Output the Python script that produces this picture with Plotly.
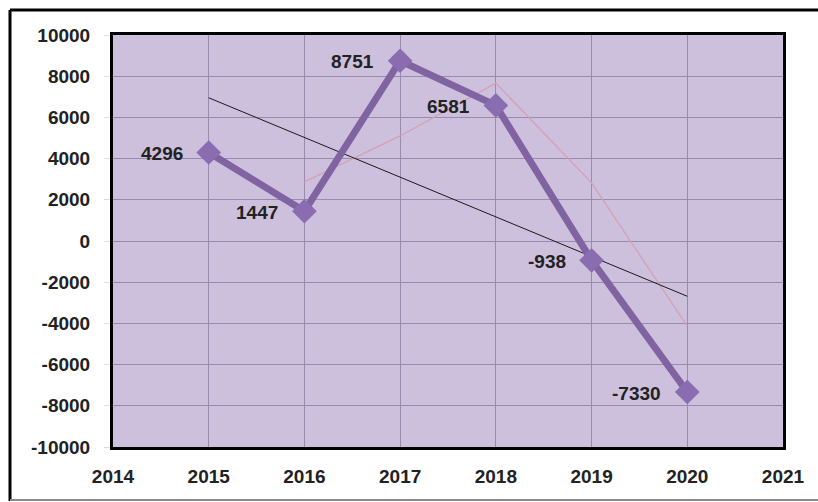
import numpy as np
import plotly.graph_objects as go

# Annual values
years = [2015, 2016, 2017, 2018, 2019, 2020]
values = [4296, 1447, 8751, 6581, -938, -7330]

x_ticks = [2014, 2015, 2016, 2017, 2018, 2019, 2020, 2021]
y_ticks = list(range(-10000, 10001, 2000))

# Linear trend (least squares) across the series
slope, intercept = np.polyfit(years, values, 1)
trend_x = [years[0], years[-1]]
trend_y = [slope * x + intercept for x in trend_x]

# Two-period moving average
ma_x = years[1:]
ma_y = [(values[i - 1] + values[i]) / 2 for i in range(1, len(values))]

PURPLE = "#8064A2"
TEXT = "#222222"
FONT = "Liberation Sans"

fig = go.Figure()

fig.add_trace(go.Scatter(
    x=ma_x, y=ma_y, mode="lines",
    line=dict(color="#D4A0B4", width=1.3),
    hoverinfo="skip", showlegend=False,
))
fig.add_trace(go.Scatter(
    x=trend_x, y=trend_y, mode="lines",
    line=dict(color="#1A1A1A", width=1),
    hoverinfo="skip", showlegend=False,
))
fig.add_trace(go.Scatter(
    x=years, y=values, mode="lines+markers",
    line=dict(color=PURPLE, width=7),
    marker=dict(symbol="diamond", size=19, color="#8A6DB0",
                line=dict(width=0)),
    showlegend=False,
))

# Value labels to the left of each point
for x, v in zip(years, values):
    fig.add_annotation(
        x=x, y=v, xref="x", yref="y", text=f"<b>{v}</b>",
        showarrow=False, xanchor="right", yanchor="middle",
        xshift=-24, yshift=-1,
        font=dict(family=FONT, size=19, color=TEXT),
    )

# Outer frame around the whole chart
L, R, T, B = 113, 783, 35, 447
W, H = 818, 502
def px_to_paper_x(px):
    return (px - L) / (R - L)
def px_to_paper_y(py):
    return (B - py) / (B - T)

# top and left edges in black, bottom edge in grey; right edge runs off the page
fig.add_shape(
    type="line", xref="paper", yref="paper",
    x0=px_to_paper_x(10), x1=px_to_paper_x(860),
    y0=px_to_paper_y(10), y1=px_to_paper_y(10),
    line=dict(color="#000000", width=3), layer="below",
)
fig.add_shape(
    type="line", xref="paper", yref="paper",
    x0=px_to_paper_x(10), x1=px_to_paper_x(10),
    y0=px_to_paper_y(10), y1=px_to_paper_y(501),
    line=dict(color="#000000", width=3), layer="below",
)
fig.add_shape(
    type="line", xref="paper", yref="paper",
    x0=px_to_paper_x(10), x1=px_to_paper_x(860),
    y0=px_to_paper_y(500), y1=px_to_paper_y(500),
    line=dict(color="#8A8A8A", width=2), layer="below",
)

fig.update_layout(
    width=W, height=H,
    margin=dict(l=L, r=W - R, t=T, b=H - B),
    paper_bgcolor="white",
    plot_bgcolor="#CDC0DD",
    font=dict(family=FONT, color=TEXT),
    xaxis=dict(
        range=[2014, 2021], tickvals=x_ticks,
        ticktext=[f"<b>{t}</b>" for t in x_ticks],
        showgrid=True, gridcolor="#9A8AAE", gridwidth=1,
        zeroline=False,
        showline=True, linecolor="#000000", linewidth=3, mirror=True,
        ticks="", ticklabelstandoff=10,
        tickfont=dict(family=FONT, size=19, color=TEXT),
    ),
    yaxis=dict(
        range=[-10000, 10000], tickvals=y_ticks,
        ticktext=[f"<b>{t}</b>" for t in y_ticks],
        showgrid=True, gridcolor="#9A8AAE", gridwidth=1,
        zeroline=False,
        showline=True, linecolor="#000000", linewidth=3, mirror=True,
        ticks="outside", ticklen=6, tickcolor="#DDDDDD",
        ticklabelstandoff=10,
        tickfont=dict(family=FONT, size=19, color=TEXT),
    ),
)

fig.write_html("out.html")
